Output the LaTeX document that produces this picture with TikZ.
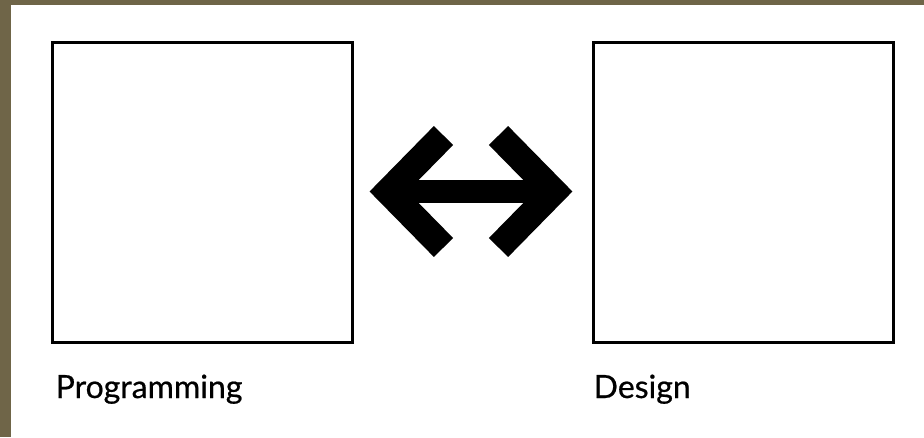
\documentclass[tikz,border=0pt]{standalone}
\usepackage{fontspec}
\setmainfont{Lato}
\newfontfamily\capfont[FakeBold=0.6]{Lato}
\usetikzlibrary{positioning, calc}

\begin{document}
\begin{tikzpicture}[
    x=1pt, y=-1pt,
    frame/.style={rectangle, draw, line width=3pt, minimum width=300pt, minimum height=300pt, inner sep=0pt},
    caption/.style={font=\capfont\fontsize{32}{38}\selectfont, inner sep=0pt, anchor=base west},
    shaft/.style={line width=23pt},
    chevron/.style={line width=27pt, line join=miter, line cap=butt},
]

% Background and olive border
\fill[fill={rgb,255:red,111;green,101;blue,72}] (0,0) rectangle (924,437);
\fill[white] (11,5) rectangle (924,437);
\useasboundingbox (0,0) rectangle (924,437);

% Boxes
\node[frame] (prog) at (202,192.5) {};
\node[frame] (design) at (743,192.5) {};

% Captions
\node[caption] (progname) at ($(prog.south west)+(5,54)$) {Programming};
\node[caption] (designname) at ($(design.south west)+(2,54)$) {Design};

% Double arrow
\coordinate (ltip) at ($(prog.east)+(35,-1)$);
\coordinate (rtip) at ($(design.west)+(-38,-1)$);
\draw[shaft] (ltip) -- (rtip);
\draw[chevron] ($(ltip)+(55,-56)$) -- (ltip) -- ($(ltip)+(55,56)$);
\draw[chevron] ($(rtip)+(-55,-56)$) -- (rtip) -- ($(rtip)+(-55,56)$);

\end{tikzpicture}
\end{document}
